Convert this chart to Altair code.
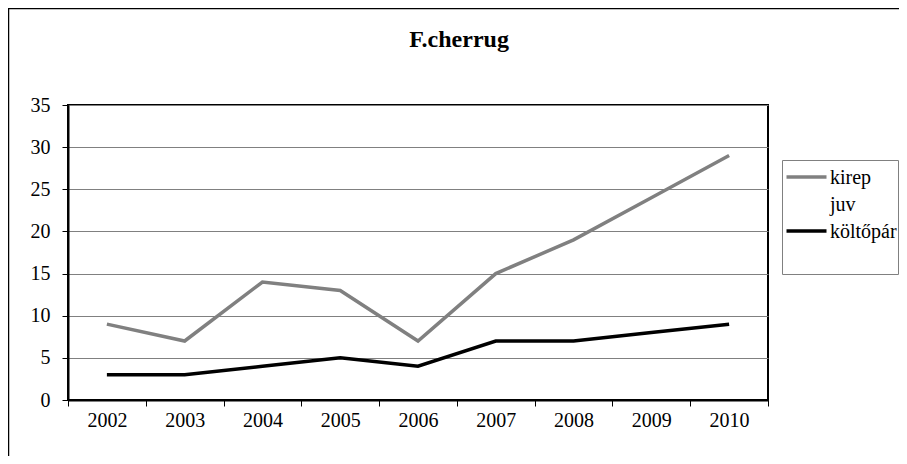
import altair as alt
import pandas as pd

# ---- data ----
years = ["2002", "2003", "2004", "2005", "2006", "2007", "2008", "2009", "2010"]
series_names = ["kirep juv", "költőpár"]
kirep_juv = [9, 7, 14, 13, 7, 15, 19, 24, 29]
koltopar = [3, 3, 4, 5, 4, 7, 7, 8, 9]
y_ticks = [0, 5, 10, 15, 20, 25, 30, 35]
title_text = "F.cherrug"
series_colors = ["#808080", "#000000"]

rows = []
for name, vals in zip(series_names, [kirep_juv, koltopar]):
    for yr, v in zip(years, vals):
        rows.append({"year": yr, "value": v, "series": name})
df = pd.DataFrame(rows)
one = pd.DataFrame({"k": [0]})

FONT = "Liberation Serif"
W, H = 700, 295

color_scale = alt.Scale(domain=series_names, range=series_colors)

# outer chart-area border (left/top edges)
outer = alt.Chart(one).mark_rect(fill=None, stroke="#000000", strokeWidth=1.5, clip=False).encode(
    x=alt.value(-59.5), x2=alt.value(900), y=alt.value(-96.5), y2=alt.value(500)
)

lines = alt.Chart(df).mark_line(strokeWidth=3.5).encode(
    x=alt.X(
        "year:N",
        sort=years,
        bandPosition=0.5,
        scale=alt.Scale(type="band", paddingInner=0, paddingOuter=0),
        axis=alt.Axis(
            title=None, labelAngle=0, tickBand="extent", grid=False,
            domainColor="#000000", domainWidth=2, tickColor="#000000", tickSize=6, tickWidth=1,
            labelFont=FONT, labelFontSize=20, labelColor="#000000", labelPadding=4,
        ),
    ),
    y=alt.Y(
        "value:Q",
        scale=alt.Scale(domain=[0, 35], nice=False),
        axis=alt.Axis(
            title=None, values=y_ticks, grid=True, gridColor="#808080", gridWidth=1,
            domainColor="#000000", domainWidth=2, tickColor="#000000", tickSize=6, tickWidth=1,
            labelFont=FONT, labelFontSize=20, labelColor="#000000", labelPadding=12,
        ),
    ),
    color=alt.Color("series:N", scale=color_scale, legend=None),
    detail="series:N",
)

title = alt.Chart(one).mark_text(
    font=FONT, fontSize=24, fontWeight="bold", color="#000000", align="center", baseline="alphabetic"
).encode(x=alt.value(391), y=alt.value(-58), text=alt.value(title_text))

# legend (manual, to allow wrapped label)
leg_box = alt.Chart(one).mark_rect(fill="#ffffff", stroke="#808080", strokeWidth=1, clip=False).encode(
    x=alt.value(714.5), x2=alt.value(830.5), y=alt.value(55.5), y2=alt.value(169.5)
)

leg_df0 = pd.DataFrame({"series": [series_names[0]]})
leg_df1 = pd.DataFrame({"series": [series_names[1]]})

leg_line0 = alt.Chart(leg_df0).mark_rule(strokeWidth=3.5, clip=False).encode(
    x=alt.value(718.5), x2=alt.value(758.5), y=alt.value(72),
    color=alt.Color("series:N", scale=color_scale, legend=None),
)
leg_line1 = alt.Chart(leg_df1).mark_rule(strokeWidth=3.5, clip=False).encode(
    x=alt.value(718.5), x2=alt.value(758.5), y=alt.value(126),
    color=alt.Color("series:N", scale=color_scale, legend=None),
)

label0_lines = series_names[0].split(" ")
leg_text0a = alt.Chart(one).mark_text(
    font=FONT, fontSize=20, color="#000000", align="left", baseline="alphabetic"
).encode(x=alt.value(762), y=alt.value(78.5), text=alt.value(label0_lines[0]))
leg_text0b = alt.Chart(one).mark_text(
    font=FONT, fontSize=20, color="#000000", align="left", baseline="alphabetic"
).encode(x=alt.value(762), y=alt.value(105.5), text=alt.value(label0_lines[1]))
leg_text1 = alt.Chart(one).mark_text(
    font=FONT, fontSize=20, color="#000000", align="left", baseline="alphabetic"
).encode(x=alt.value(762), y=alt.value(132.5), text=alt.value(series_names[1]))

chart = alt.layer(
    outer, lines, title, leg_box, leg_line0, leg_line1, leg_text0a, leg_text0b, leg_text1
).properties(
    width=W, height=H,
    autosize=alt.AutoSizeParams(type="none"),
    padding={"left": 60, "top": 97, "right": 131, "bottom": 56},
).configure(
    font=FONT, background="#ffffff"
).configure_text(font=FONT).configure_axis(labelFont=FONT).configure_view(stroke="#000000", strokeWidth=2)

chart.save("out.html", embed_options={"renderer": "svg", "actions": False})
